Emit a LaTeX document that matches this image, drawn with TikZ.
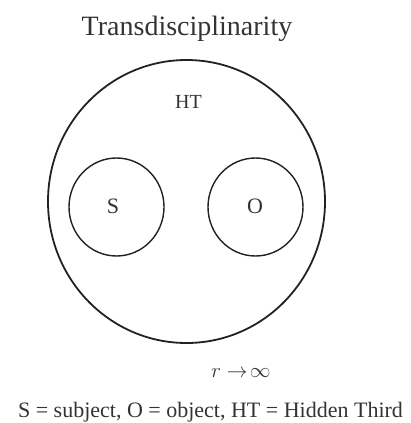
\documentclass[tikz,border=0pt]{standalone}
\usepackage{fontspec}
\setmainfont{Liberation Serif}
\usetikzlibrary{shapes.geometric}
\definecolor{ink}{HTML}{222222}
\definecolor{txt}{HTML}{333333}
\tikzset{
  ring/.style={draw=ink, ellipse, inner sep=0pt},
  lbl/.style={anchor=base, inner sep=0pt, text=txt},
}
\begin{document}
\begin{tikzpicture}[x=1pt,y=-1pt]
\useasboundingbox (0,0) rectangle (411,423);
\node[lbl, font=\fontsize{28}{30}\selectfont] (title) at (187,35) {Transdisciplinarity};
\node[ring, line width=1.8pt, minimum width=277pt, minimum height=283pt] (big) at (186.5,201.5) {};
\node[lbl, font=\fontsize{20}{22}\selectfont] (ht) at (188.5,108) {HT};
\node[ring, line width=1.4pt, minimum width=95pt, minimum height=98pt] (s) at (116.5,207) {};
\node[ring, line width=1.4pt, minimum width=95pt, minimum height=98pt] (o) at (255.5,207) {};
\node[lbl, font=\fontsize{22}{24}\selectfont] (slbl) at (113,213) {S};
\node[lbl, font=\fontsize{22}{24}\selectfont] (olbl) at (255,213) {O};
\node[lbl, font=\fontsize{21}{23}\selectfont] (r) at (241,377) {$r\rightarrow\!\infty$};
\node[lbl, font=\fontsize{22}{24}\selectfont] (cap) at (210.5,417) {S = subject, O = object, HT = Hidden Third};
\end{tikzpicture}
\end{document}
